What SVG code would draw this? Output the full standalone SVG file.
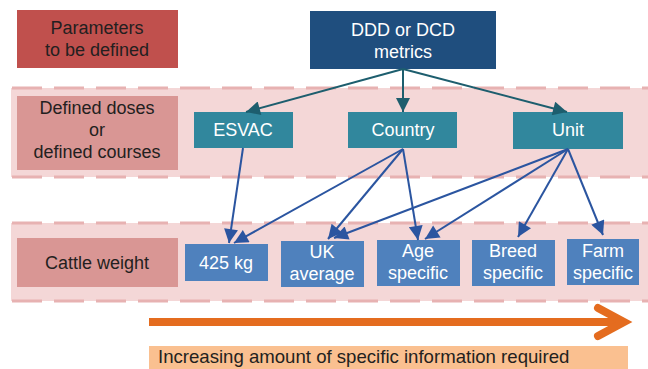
<svg xmlns="http://www.w3.org/2000/svg" width="648" height="369" viewBox="0 0 648 369">
<style>
text{font-family:"Liberation Sans",Arial,sans-serif;font-size:18px;text-anchor:middle}
.dk{fill:#231f20}
.wt{fill:#ffffff}
.band{fill:#f4d7d7}
.dash{stroke:#e7b2b2;stroke-width:3;stroke-dasharray:30 12;fill:none}
.lbl{fill:#d99694}
.teal{fill:#31879d}
.blue{fill:#4f81bd}
.c1{stroke:#1d5e6e;stroke-width:2;fill:none;marker-end:url(#ah1)}
.c2{stroke:#2b55a0;stroke-width:2;fill:none;marker-end:url(#ah2)}
</style>
<defs>
<marker id="ah1" viewBox="0 0 10 10" refX="10" refY="5" markerUnits="userSpaceOnUse" markerWidth="16" markerHeight="14" orient="auto"><path d="M0,0 L10,5 L0,10 z" fill="#1d5e6e"/></marker>
<marker id="ah2" viewBox="0 0 10 10" refX="10" refY="5" markerUnits="userSpaceOnUse" markerWidth="16" markerHeight="14" orient="auto"><path d="M0,0 L10,5 L0,10 z" fill="#2b55a0"/></marker>
</defs>
<rect width="648" height="369" fill="#ffffff"/>
<g id="bands">
<rect class="band" x="11" y="88" width="637" height="89"/>
<line class="dash" x1="12" y1="88" x2="648" y2="88"/>
<line class="dash" x1="12" y1="177" x2="648" y2="177"/>
<rect class="band" x="11" y="223" width="637" height="78"/>
<line class="dash" x1="12" y1="223" x2="648" y2="223"/>
<line class="dash" x1="12" y1="301" x2="648" y2="301"/>
</g>
<g id="params">
<rect x="17" y="10" width="161" height="58" fill="#c0504d"/>
<text class="dk" x="97" y="34">Parameters</text>
<text class="dk" x="97" y="56">to be defined</text>
</g>
<g id="ddd">
<rect x="310" y="11" width="186" height="58" fill="#1f4e7e"/>
<text class="wt" x="403" y="36">DDD or DCD</text>
<text class="wt" x="403" y="58">metrics</text>
</g>
<g id="defined">
<rect class="lbl" x="17" y="96" width="161" height="74"/>
<text class="dk" x="97" y="114">Defined doses</text>
<text class="dk" x="97" y="136">or</text>
<text class="dk" x="97" y="158">defined courses</text>
</g>
<g id="esvac">
<rect class="teal" x="194" y="112" width="99" height="36"/>
<text class="wt" x="243" y="136">ESVAC</text>
</g>
<g id="country">
<rect class="teal" x="348" y="112" width="109" height="36"/>
<text class="wt" x="403" y="136">Country</text>
</g>
<g id="unit">
<rect class="teal" x="513" y="112" width="110" height="37"/>
<text class="wt" x="568" y="136">Unit</text>
</g>
<g id="cattle">
<rect class="lbl" x="17" y="238" width="161" height="49"/>
<text class="dk" x="97" y="269">Cattle weight</text>
</g>
<g id="kg425">
<rect class="blue" x="185" y="244" width="83" height="37"/>
<text class="wt" x="226" y="269">425 kg</text>
</g>
<g id="ukavg">
<rect class="blue" x="281" y="241" width="83" height="46"/>
<text class="wt" x="322" y="258">UK</text>
<text class="wt" x="322" y="280">average</text>
</g>
<g id="age">
<rect class="blue" x="377" y="240" width="83" height="46"/>
<text class="wt" x="418" y="257">Age</text>
<text class="wt" x="418" y="279">specific</text>
</g>
<g id="breed">
<rect class="blue" x="472" y="240" width="83" height="46"/>
<text class="wt" x="513" y="257">Breed</text>
<text class="wt" x="513" y="279">specific</text>
</g>
<g id="farm">
<rect class="blue" x="567" y="239" width="72" height="46"/>
<text class="wt" x="603" y="257">Farm</text>
<text class="wt" x="603" y="279">specific</text>
</g>
<g id="connectors">
<line class="c1" x1="403" y1="69" x2="246" y2="112"/>
<line class="c1" x1="403" y1="69" x2="403" y2="112"/>
<line class="c1" x1="403" y1="69" x2="567" y2="112"/>
<line class="c2" x1="243" y1="148" x2="229" y2="243"/>
<line class="c2" x1="403" y1="149" x2="234" y2="243"/>
<line class="c2" x1="403" y1="149" x2="328" y2="239"/>
<line class="c2" x1="403" y1="149" x2="418" y2="240"/>
<line class="c2" x1="568" y1="149" x2="334" y2="238"/>
<line class="c2" x1="568" y1="149" x2="425" y2="239"/>
<line class="c2" x1="568" y1="149" x2="518" y2="237"/>
<line class="c2" x1="568" y1="149" x2="603" y2="235"/>
</g>
<g id="progress">
<line x1="149" y1="322" x2="622" y2="322" stroke="#e46c1f" stroke-width="8"/>
<polyline points="598,308 624,322 598,336" fill="none" stroke="#e46c1f" stroke-width="8" stroke-linecap="round" stroke-linejoin="miter"/>
<rect x="149" y="346" width="479" height="23" fill="#fac090"/>
<text class="dk" x="158" y="363" style="text-anchor:start;font-size:18.6px">Increasing amount of specific information required</text>
</g>
</svg>
